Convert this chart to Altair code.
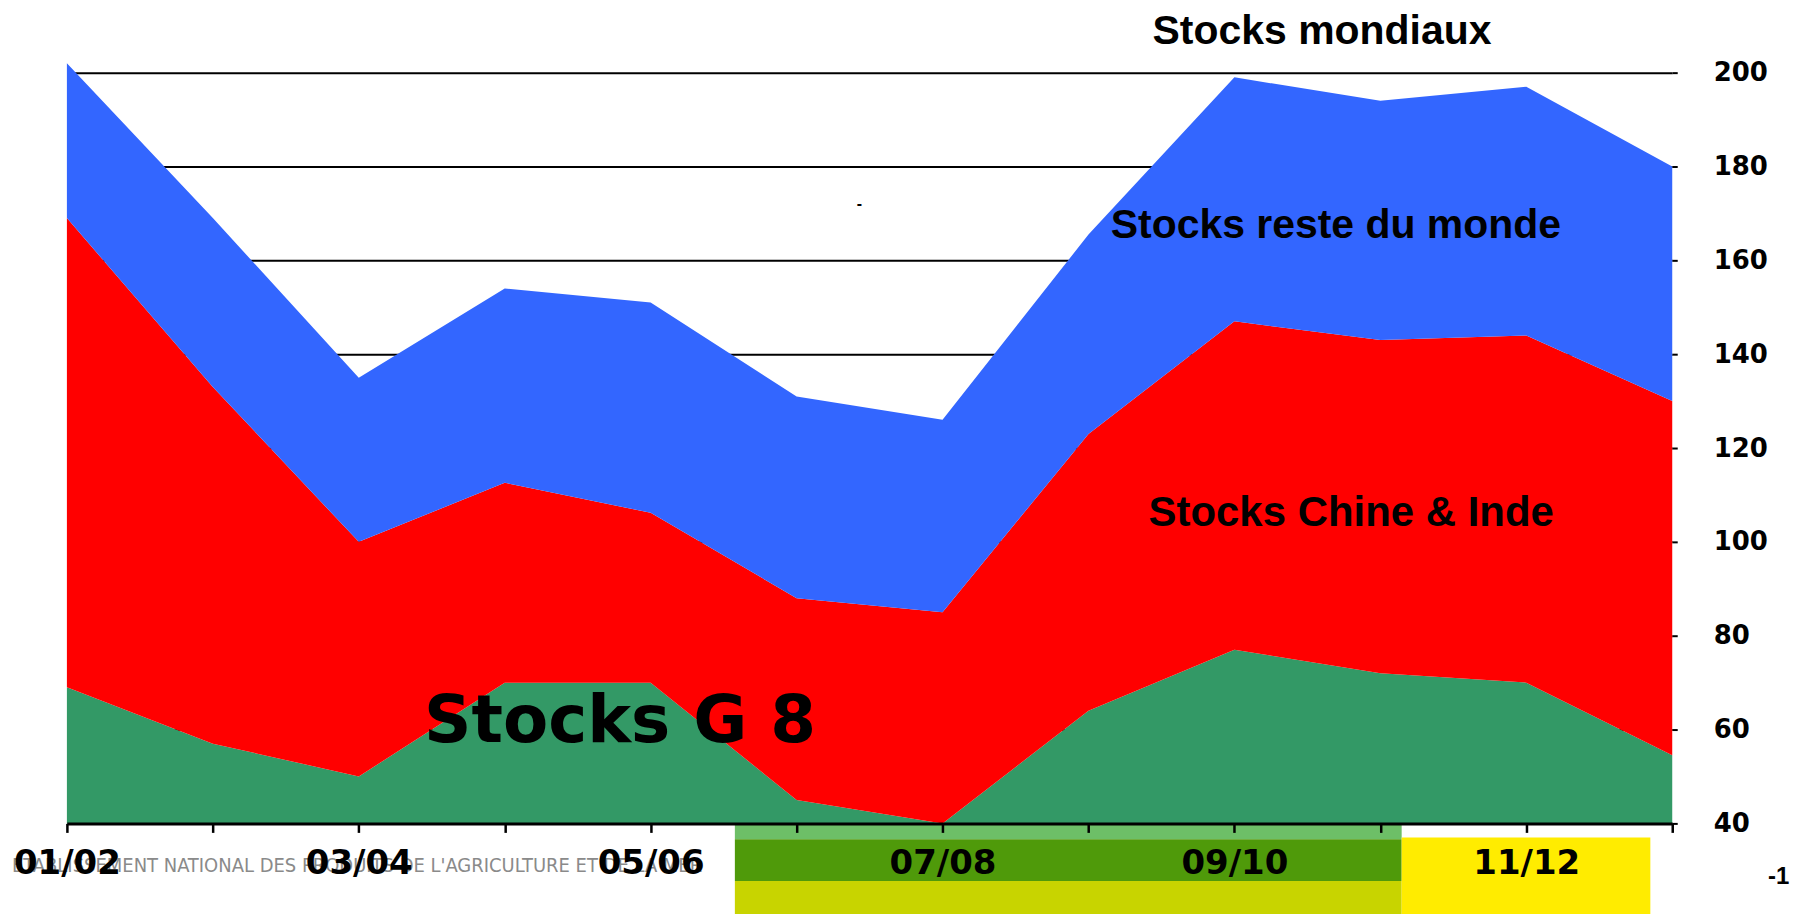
import json
import altair as alt
import pandas as pd

# ---------------- data ----------------
categories = ["01/02", "02/03", "03/04", "04/05", "05/06", "06/07",
              "07/08", "08/09", "09/10", "10/11", "11/12", "12/13"]
stocks_g8 = [69, 57, 50, 70, 70, 45, 40, 64, 77, 72, 70, 54.5]
stocks_chine_inde = [100, 76, 50, 42.6, 36.2, 43, 45, 59, 70, 71, 74, 75.5]
stocks_reste_monde = [33, 36, 35, 41.4, 44.8, 43, 41, 42.5, 52, 51, 53, 50]
y_ticks = [40, 60, 80, 100, 120, 140, 160, 180, 200]
series_names = ["Stocks G 8", "Stocks Chine & Inde", "Stocks reste du monde"]
series_colors = ["#339966", "#FF0000", "#3366FF"]

AXIS_MIN, AXIS_MAX = 40, 200

rows = []
for i, c in enumerate(categories):
    g = stocks_g8[i]
    ci = stocks_chine_inde[i]
    r = stocks_reste_monde[i]
    rows.append(dict(idx=i, cat=c, serie=series_names[0], lo=AXIS_MIN, hi=g))
    rows.append(dict(idx=i, cat=c, serie=series_names[1], lo=g, hi=g + ci))
    rows.append(dict(idx=i, cat=c, serie=series_names[2], lo=g + ci, hi=g + ci + r))
df = pd.DataFrame(rows)

one = pd.DataFrame({"k": [0]})

label_expr = ("datum.value % 2 == 0 ? " + json.dumps(categories) +
              "[datum.value] : ''")

x_scale = alt.Scale(domain=[0, len(categories) - 1], nice=False, zero=False)
y_scale = alt.Scale(domain=[AXIS_MIN, AXIS_MAX], nice=False, zero=False)

areas = alt.Chart(df).mark_area(interpolate="linear").encode(
    x=alt.X("idx:Q", scale=x_scale,
            axis=alt.Axis(values=list(range(len(categories))), labelExpr=label_expr,
                          title=None, grid=False, domain=True, domainColor="black",
                          domainWidth=3, ticks=True, tickSize=9, tickWidth=2.5,
                          tickColor="black", labelFont="DejaVu Sans", labelFontSize=34,
                          labelFontWeight="bold", labelColor="black",
                          labelBaseline="middle", labelPadding=31,
                          labelFlush=False, labelOverlap=False, zindex=1)),
    y=alt.Y("hi:Q", scale=y_scale,
            axis=alt.Axis(orient="right", values=y_ticks, title=None, grid=True,
                          gridColor="black", gridWidth=2, gridOpacity=1,
                          domain=False, ticks=True, tickSize=5, tickWidth=2,
                          tickColor="black", labelFont="DejaVu Sans",
                          labelFontSize=26, labelFontWeight="bold",
                          labelColor="black", labelPadding=36, labelAlign="left")),
    y2="lo:Q",
    color=alt.Color("serie:N", scale=alt.Scale(domain=series_names, range=series_colors),
                    legend=None),
)


def band(x1, x2, y1, y2, color):
    return alt.Chart(one).mark_rect(color=color).encode(
        x=alt.datum(x1), x2=alt.datum(x2), y=alt.datum(y1), y2=alt.datum(y2))


def note(text, xi, yv, size, font, color="black", weight="bold", align="center"):
    return alt.Chart(one).mark_text(
        text=text, font=font, fontSize=size, fontWeight=weight, color=color,
        align=align, baseline="middle").encode(x=alt.datum(xi), y=alt.datum(yv))


bands = [
    band(4.577, 9.146, 39.8, 36.6, "#6dbf67"),
    band(4.577, 9.146, 36.6, 27.7, "#4f9a0a"),
    band(4.577, 9.146, 27.7, 17.0, "#c8d400"),
    band(9.146, 10.85, 37.0, 17.0, "#ffec00"),
]

watermark = note("ETABLISSEMENT NATIONAL DES PRODUITS DE L'AGRICULTURE ET DE LA MER",
                 -0.376, 31.0, 20, "Liberation Sans Narrow, DejaVu Sans Condensed, sans-serif",
                 color="#8a8a8a", weight="normal", align="left")

notes = [
    note("Stocks mondiaux", 8.6, 208.6, 41, "Liberation Sans"),
    note("Stocks reste du monde", 8.695, 167.4, 41, "Liberation Sans"),
    note("Stocks Chine & Inde", 8.80, 106.2, 42, "Liberation Sans"),
    note("Stocks G 8", 3.79, 61.5, 66, "DejaVu Sans"),
    note("-", 5.43, 172.1, 16, "Liberation Sans"),
    note("-1", 11.73, 28.5, 24, "Liberation Sans"),
]

chart = alt.layer(*bands, watermark, areas, *notes).properties(
    width=1608, height=752,
    autosize=alt.AutoSizeParams(type="none"),
    padding={"left": 59, "top": 64, "right": 140, "bottom": 90},
    background="white",
).configure_view(stroke=None)

chart.save("out.html", embed_options={"renderer": "svg", "actions": False})
